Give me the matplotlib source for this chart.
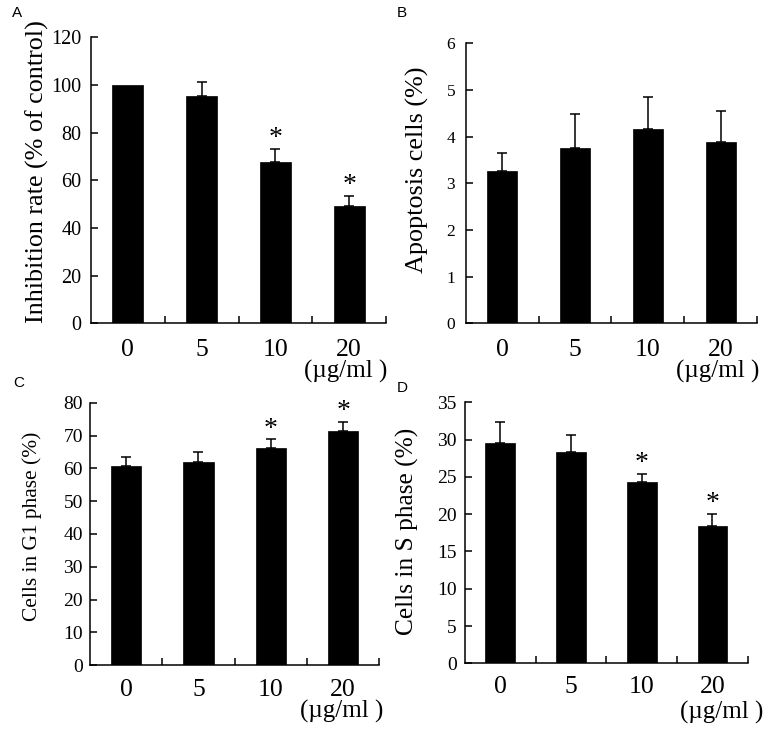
import matplotlib
matplotlib.use("Agg")
import matplotlib.pyplot as plt
import numpy as np

# ---- data ----
doses = ["0", "5", "10", "20"]
unit_label = "(\u00b5g/ml )"

inhibition = [100, 95.4, 67.6, 49.4]
inhibition_err = [0, 5.9, 5.7, 4.0]
inhibition_sig = [False, False, True, True]

apoptosis = [3.26, 3.75, 4.16, 3.89]
apoptosis_err = [0.40, 0.74, 0.69, 0.67]
apoptosis_sig = [False, False, False, False]

g1_phase = [60.7, 61.9, 66.2, 71.3]
g1_phase_err = [2.7, 3.1, 2.6, 2.9]
g1_phase_sig = [False, False, True, True]

s_phase = [29.5, 28.4, 24.3, 18.45]
s_phase_err = [2.8, 2.2, 1.1, 1.55]
s_phase_sig = [False, False, True, True]

W, H = 776, 733
DPI = 100
fig = plt.figure(figsize=(W / DPI, H / DPI), dpi=DPI)
plt.rcParams['font.family'] = ['Liberation Serif', 'DejaVu Serif']

def px_axes(left, right, top, bottom):
    return fig.add_axes([left / W, (H - bottom) / H, (right - left) / W, (bottom - top) / H])

panels = [
    dict(box=(91, 386, 37.3, 323.3), vals=inhibition, err=inhibition_err, sig=inhibition_sig,
         ylim=120, step=20, ytick_fs=14.5, ypad=7, xpad=11.5, ylabel="Inhibition rate (% of control)",
         ylabel_xy=(37, 171.5), ylabel_fs=18.8, letter="A", letter_xy=(12, 13),
         unit_xy=(345.5, 371)),
    dict(box=(465.7, 757.3, 43.3, 323.3), vals=apoptosis, err=apoptosis_err, sig=apoptosis_sig,
         ylim=6, step=1, ytick_fs=12.5, ypad=7.5, xpad=11, ylabel="Apoptosis cells (%)",
         ylabel_xy=(417.5, 170), ylabel_fs=18.8, letter="B", letter_xy=(397, 13),
         unit_xy=(717.5, 371)),
    dict(box=(90, 379.3, 402.7, 665.3), vals=g1_phase, err=g1_phase_err, sig=g1_phase_sig,
         ylim=80, step=10, ytick_fs=14, ypad=5, xpad=10, ylabel="Cells in G1 phase (%)",
         ylabel_xy=(32.5, 526), ylabel_fs=15.4, letter="C", letter_xy=(13, 383),
         unit_xy=(342, 711)),
    dict(box=(465, 747.7, 402.3, 663.3), vals=s_phase, err=s_phase_err, sig=s_phase_sig,
         ylim=35, step=5, ytick_fs=14, ypad=6, xpad=9, ylabel="Cells in S phase (%)",
         ylabel_xy=(407, 531), ylabel_fs=18.3, letter="D", letter_xy=(397, 388),
         unit_xy=(722, 712)),
]

for p in panels:
    l, r, t, b = p["box"]
    ax = px_axes(l, r, t, b)
    x = np.arange(len(doses))
    ax.bar(x, p["vals"], width=0.42, color="black", edgecolor="black", linewidth=0.5, zorder=2)
    errs = np.array(p["err"])
    mask = errs > 0
    ax.errorbar(x[mask], np.array(p["vals"])[mask], yerr=[np.zeros(mask.sum()), errs[mask]],
                fmt="none", ecolor="black", elinewidth=1.1, capsize=3.6, capthick=1.1, zorder=1)
    for i, s in enumerate(p["sig"]):
        if s:
            ax.annotate("*", xy=(x[i], p["vals"][i] + p["err"][i]), xytext=(0, -1.6),
                        textcoords="offset points", ha="center", va="bottom",
                        fontsize=20, color="black")
    ax.set_xlim(-0.5, 3.5)
    ax.set_ylim(0, p["ylim"])
    ax.set_yticks(np.arange(0, p["ylim"] + 0.001, p["step"]))
    ax.set_xticks(x)
    ax.set_xticklabels(doses)
    ax.set_xticks([0.5, 1.5, 2.5, 3.5], minor=True)
    ax.tick_params(axis="x", which="major", length=0, pad=p["xpad"], labelsize=18.5)
    ax.tick_params(axis="x", which="minor", direction="in", length=5, width=1.1)
    ax.tick_params(axis="y", which="major", direction="in", length=5, width=1.1,
                   pad=p["ypad"], labelsize=p["ytick_fs"])
    for side in ["top", "right"]:
        ax.spines[side].set_visible(False)
    for side in ["left", "bottom"]:
        ax.spines[side].set_linewidth(1.1)
    ax.patch.set_alpha(0)

    fig.text(p["ylabel_xy"][0] / W, 1 - p["ylabel_xy"][1] / H, p["ylabel"], rotation=90,
             ha="center", va="center", fontsize=p["ylabel_fs"])
    fig.text(p["letter_xy"][0] / W, 1 - p["letter_xy"][1] / H, p["letter"], ha="left",
             va="center", fontsize=11, family=["Liberation Sans", "DejaVu Sans"])
    fig.text(p["unit_xy"][0] / W, 1 - p["unit_xy"][1] / H, unit_label, ha="center",
             va="center", fontsize=18)

fig.savefig("out.png", dpi=DPI)
